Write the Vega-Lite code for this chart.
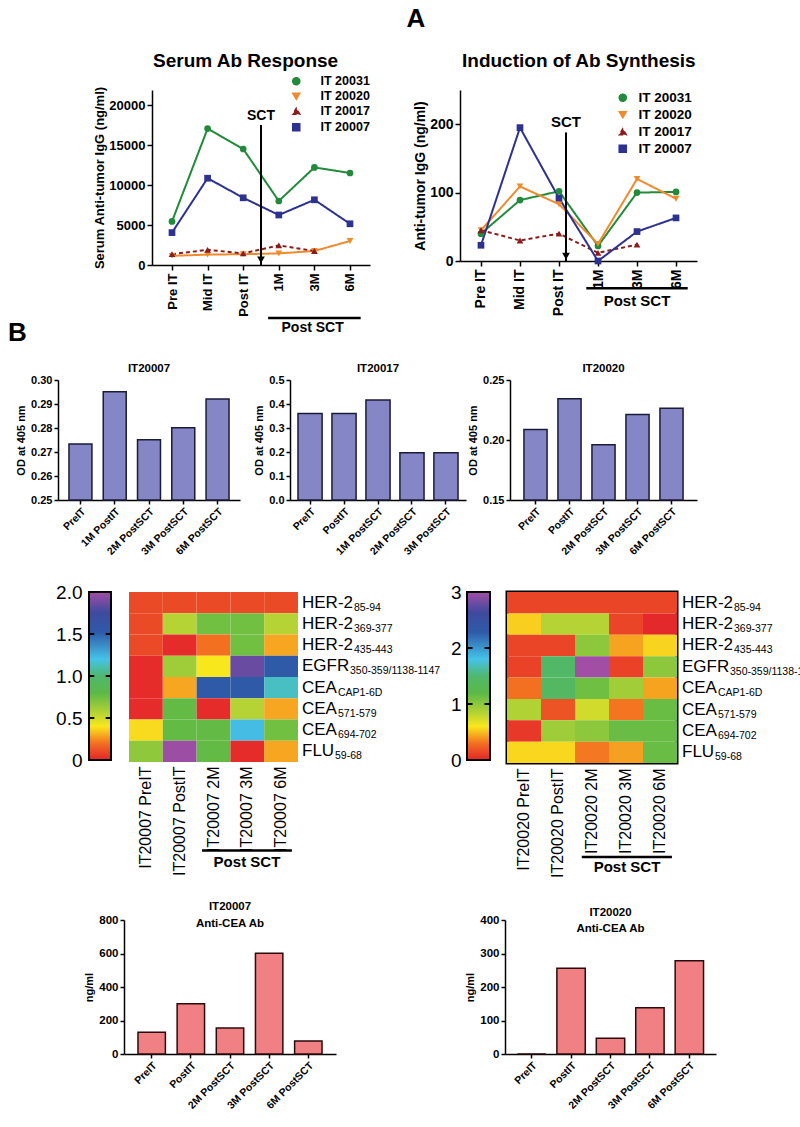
{
"$schema": "https://vega.github.io/schema/vega-lite/v6.json",
"padding": 0,
"background": "white",
"bounds": "flush",
"spacing": 0,
"resolve": {"scale": {"color": "independent", "shape": "independent", "strokeDash": "independent"}},
"config": {
  "view": {"stroke": null},
  "font": "Liberation Sans",
  "title": {"color": "black", "font": "Liberation Sans"},
  "text": {"font": "Liberation Sans", "color": "black"},
  "axis": {"domainColor": "black", "domainWidth": 1.5, "tickColor": "black", "tickWidth": 1.5, "tickSize": 5, "labelColor": "black", "labelFont": "Liberation Sans", "labelFontWeight": "bold", "titleColor": "black", "titleFont": "Liberation Sans", "titleFontWeight": "bold", "grid": false, "labelFlush": false, "labelOverlap": false},
  "legend": {"labelFont": "Liberation Sans", "labelColor": "black"}
},
"datasets": {
  "rowlab": [
    {"r": "HER-2 85-94", "m": "HER-2", "s": "85-94"},
    {"r": "HER-2 369-377", "m": "HER-2", "s": "369-377"},
    {"r": "HER-2 435-443", "m": "HER-2", "s": "435-443"},
    {"r": "EGFR 350-359/1138-1147", "m": "EGFR", "s": "350-359/1138-1147"},
    {"r": "CEA CAP1-6D", "m": "CEA", "s": "CAP1-6D"},
    {"r": "CEA 571-579", "m": "CEA", "s": "571-579"},
    {"r": "CEA 694-702", "m": "CEA", "s": "694-702"},
    {"r": "FLU 59-68", "m": "FLU", "s": "59-68"}
  ]
},
"vconcat": [
  {"width": 800, "height": 90, "title": {"text": "A", "anchor": "middle", "frame": "group", "fontSize": 26, "fontWeight": "bold", "baseline": "alphabetic", "offset": -53, "dx": 16}, "data": {"values": []}, "mark": "point"},
  {"bounds": "flush", "spacing": 0,
   "resolve": {"scale": {"color": "independent", "shape": "independent", "strokeDash": "independent"}},
   "hconcat": [
    {"width": 152, "height": 1, "data": {"values": []}, "mark": "point"},
    {"width": 218, "height": 175,
     "title": {"text": "Serum Ab Response", "anchor": "start", "frame": "group", "dx": 1, "offset": 4, "fontSize": 19, "fontWeight": "bold"},
     "layer": [
       {"data": {"values": [
          {"s":"IT 20031","t":"Pre IT","v":5450},{"s":"IT 20031","t":"Mid IT","v":17050},{"s":"IT 20031","t":"Post IT","v":14500},{"s":"IT 20031","t":"1M","v":8000},{"s":"IT 20031","t":"3M","v":12200},{"s":"IT 20031","t":"6M","v":11500},
          {"s":"IT 20020","t":"Pre IT","v":1150},{"s":"IT 20020","t":"Mid IT","v":1300},{"s":"IT 20020","t":"Post IT","v":1350},{"s":"IT 20020","t":"1M","v":1450},{"s":"IT 20020","t":"3M","v":1750},{"s":"IT 20020","t":"6M","v":3000},
          {"s":"IT 20017","t":"Pre IT","v":1350},{"s":"IT 20017","t":"Mid IT","v":1900},{"s":"IT 20017","t":"Post IT","v":1450},{"s":"IT 20017","t":"1M","v":2450},{"s":"IT 20017","t":"3M","v":1750},
          {"s":"IT 20007","t":"Pre IT","v":4050},{"s":"IT 20007","t":"Mid IT","v":10850},{"s":"IT 20007","t":"Post IT","v":8400},{"s":"IT 20007","t":"1M","v":6250},{"s":"IT 20007","t":"3M","v":8150},{"s":"IT 20007","t":"6M","v":5150}
        ]},
        "layer": [
          {"mark": {"type": "line", "strokeWidth": 2},
           "encoding": {
             "x": {"field": "t", "type": "nominal", "sort": ["Pre IT","Mid IT","Post IT","1M","3M","6M"], "scale": {"type": "point", "padding": 0.562}, "axis": {"title": null, "labelAngle": 270, "labelFontSize": 13, "labelPadding": 3}},
             "y": {"field": "v", "type": "quantitative", "scale": {"domain": [0, 21875], "nice": false}, "axis": {"title": "Serum Anti-tumor IgG (ng/ml)", "titleFontSize": 13, "titlePadding": 2, "labelFontSize": 13, "values": [0,5000,10000,15000,20000], "format": "d"}},
             "color": {"field": "s", "type": "nominal", "scale": {"domain": ["IT 20031","IT 20020","IT 20017","IT 20007"], "range": ["#228b3b","#f08a2c","#8b1c1c","#2d3190"]}, "legend": {"title": null, "orient": "none", "legendX": 138, "legendY": -15, "labelFontSize": 12.5, "labelFontWeight": "bold", "symbolSize": 50, "rowPadding": 2, "labelOffset": 18}},
             "strokeDash": {"field": "s", "type": "nominal", "scale": {"domain": ["IT 20031","IT 20020","IT 20017","IT 20007"], "range": [[1,0],[1,0],[4,3],[1,0]]}, "legend": null}
           }},
          {"mark": {"type": "point", "filled": true, "size": 45, "opacity": 1},
           "encoding": {
             "x": {"field": "t", "type": "nominal", "sort": ["Pre IT","Mid IT","Post IT","1M","3M","6M"]},
             "y": {"field": "v", "type": "quantitative"},
             "color": {"field": "s", "type": "nominal", "legend": {"title": null, "orient": "none", "legendX": 138, "legendY": -15, "labelFontSize": 12.5, "labelFontWeight": "bold", "symbolSize": 50, "rowPadding": 2, "labelOffset": 18}},
             "shape": {"field": "s", "type": "nominal", "scale": {"domain": ["IT 20031","IT 20020","IT 20017","IT 20007"], "range": ["circle","triangle-down","triangle-up","square"]}, "legend": {"title": null, "orient": "none", "legendX": 138, "legendY": -15, "labelFontSize": 12.5, "labelFontWeight": "bold", "symbolSize": 50, "rowPadding": 2, "labelOffset": 18}}
           }}
        ]},
       {"data": {"values": [{}]},
        "layer": [
          {"mark": {"type": "rule", "strokeWidth": 2, "color": "black"},
           "encoding": {"x": {"datum": 3, "type": "quantitative", "scale": {"domain": [-0.062, 6.062], "nice": false, "zero": false}, "axis": null}, "y": {"datum": 17500, "type": "quantitative"}, "y2": {"datum": 0}}},
          {"mark": {"type": "point", "shape": "triangle-down", "filled": true, "color": "black", "size": 60, "opacity": 1},
           "encoding": {"x": {"datum": 3, "type": "quantitative"}, "y": {"datum": 650, "type": "quantitative"}}},
          {"mark": {"type": "text", "text": "SCT", "fontSize": 14, "fontWeight": "bold", "baseline": "bottom"},
           "encoding": {"x": {"datum": 3, "type": "quantitative"}, "y": {"datum": 17750, "type": "quantitative"}}},
          {"mark": {"type": "rule", "strokeWidth": 2.5, "color": "black"},
           "encoding": {"x": {"datum": 3.2, "type": "quantitative"}, "x2": {"datum": 5.8}, "y": {"datum": -6625, "type": "quantitative"}}},
          {"mark": {"type": "text", "text": "Post SCT", "fontSize": 14, "fontWeight": "bold", "baseline": "middle"},
           "encoding": {"x": {"datum": 4.45, "type": "quantitative"}, "y": {"datum": -7875, "type": "quantitative"}}}
        ]}
     ],
     "resolve": {"scale": {"x": "independent"}}
    },
    {"width": 90, "height": 1, "data": {"values": []}, "mark": "point"},
    {"width": 237, "height": 171,
     "title": {"text": "Induction of Ab Synthesis", "anchor": "start", "frame": "group", "dx": 2, "offset": 19, "fontSize": 19, "fontWeight": "bold"},
     "layer": [
       {"data": {"values": [
          {"s":"IT 20031","t":"Pre IT","v":40},{"s":"IT 20031","t":"Mid IT","v":89},{"s":"IT 20031","t":"Post IT","v":102},{"s":"IT 20031","t":"1M","v":22},{"s":"IT 20031","t":"3M","v":100},{"s":"IT 20031","t":"6M","v":101},
          {"s":"IT 20020","t":"Pre IT","v":45},{"s":"IT 20020","t":"Mid IT","v":109},{"s":"IT 20020","t":"Post IT","v":83},{"s":"IT 20020","t":"1M","v":25},{"s":"IT 20020","t":"3M","v":120},{"s":"IT 20020","t":"6M","v":91},
          {"s":"IT 20017","t":"Pre IT","v":45},{"s":"IT 20017","t":"Mid IT","v":30},{"s":"IT 20017","t":"Post IT","v":40},{"s":"IT 20017","t":"1M","v":12},{"s":"IT 20017","t":"3M","v":24},
          {"s":"IT 20007","t":"Pre IT","v":23},{"s":"IT 20007","t":"Mid IT","v":195},{"s":"IT 20007","t":"Post IT","v":92},{"s":"IT 20007","t":"1M","v":0},{"s":"IT 20007","t":"3M","v":43},{"s":"IT 20007","t":"6M","v":63}
        ]},
        "layer": [
          {"mark": {"type": "line", "strokeWidth": 2},
           "encoding": {
             "x": {"field": "t", "type": "nominal", "sort": ["Pre IT","Mid IT","Post IT","1M","3M","6M"], "scale": {"type": "point", "padding": 0.538}, "axis": {"title": null, "labelAngle": 270, "labelFontSize": 14, "labelPadding": 3}},
             "y": {"field": "v", "type": "quantitative", "scale": {"domain": [0, 250], "nice": false}, "axis": {"title": "Anti-tumor IgG (ng/ml)", "titleFontSize": 14, "titlePadding": 2, "labelFontSize": 14, "values": [0,50,100,150,200,250]}},
             "color": {"field": "s", "type": "nominal", "scale": {"domain": ["IT 20031","IT 20020","IT 20017","IT 20007"], "range": ["#228b3b","#f08a2c","#8b1c1c","#2d3190"]}, "legend": {"title": null, "orient": "none", "legendX": 156, "legendY": 1, "labelFontSize": 13.5, "labelFontWeight": "bold", "symbolSize": 50, "rowPadding": 2, "labelOffset": 9}},
             "strokeDash": {"field": "s", "type": "nominal", "scale": {"domain": ["IT 20031","IT 20020","IT 20017","IT 20007"], "range": [[1,0],[1,0],[4,3],[1,0]]}, "legend": null}
           }},
          {"mark": {"type": "point", "filled": true, "size": 45, "opacity": 1},
           "encoding": {
             "x": {"field": "t", "type": "nominal", "sort": ["Pre IT","Mid IT","Post IT","1M","3M","6M"]},
             "y": {"field": "v", "type": "quantitative"},
             "color": {"field": "s", "type": "nominal", "legend": {"title": null, "orient": "none", "legendX": 156, "legendY": 1, "labelFontSize": 13.5, "labelFontWeight": "bold", "symbolSize": 50, "rowPadding": 2, "labelOffset": 9}},
             "shape": {"field": "s", "type": "nominal", "scale": {"domain": ["IT 20031","IT 20020","IT 20017","IT 20007"], "range": ["circle","triangle-down","triangle-up","square"]}, "legend": {"title": null, "orient": "none", "legendX": 156, "legendY": 1, "labelFontSize": 13.5, "labelFontWeight": "bold", "symbolSize": 50, "rowPadding": 2, "labelOffset": 9}}
           }}
        ]},
       {"data": {"values": [{}]},
        "layer": [
          {"mark": {"type": "rule", "strokeWidth": 2, "color": "black"},
           "encoding": {"x": {"datum": 2.68, "type": "quantitative", "scale": {"domain": [-0.038, 6.038], "nice": false, "zero": false}, "axis": null}, "y": {"datum": 188, "type": "quantitative"}, "y2": {"datum": 0}}},
          {"mark": {"type": "point", "shape": "triangle-down", "filled": true, "color": "black", "size": 60, "opacity": 1},
           "encoding": {"x": {"datum": 2.68, "type": "quantitative"}, "y": {"datum": 7, "type": "quantitative"}}},
          {"mark": {"type": "text", "text": "SCT", "fontSize": 15, "fontWeight": "bold", "baseline": "bottom"},
           "encoding": {"x": {"datum": 2.68, "type": "quantitative"}, "y": {"datum": 192, "type": "quantitative"}}},
          {"mark": {"type": "rule", "strokeWidth": 2.5, "color": "black"},
           "encoding": {"x": {"datum": 3.2, "type": "quantitative"}, "x2": {"datum": 5.8}, "y": {"datum": -40, "type": "quantitative"}}},
          {"mark": {"type": "text", "text": "Post SCT", "fontSize": 15, "fontWeight": "bold", "baseline": "middle"},
           "encoding": {"x": {"datum": 4.5, "type": "quantitative"}, "y": {"datum": -58, "type": "quantitative"}}}
        ]}
     ],
     "resolve": {"scale": {"x": "independent"}}
    }
  ]},
  {"width": 800, "height": 290, "title": {"text": "B", "anchor": "start", "frame": "group", "fontSize": 26, "fontWeight": "bold", "baseline": "alphabetic", "offset": -277, "dx": 8}, "data": {"values": []}, "mark": "point"},
  {"bounds": "flush", "spacing": 0, "hconcat": [
    {"width": 58, "height": 1, "data": {"values": []}, "mark": "point"},
    {"width": 182, "height": 120,
     "title": {"text": "IT20007", "fontSize": 11.5, "fontWeight": "bold", "frame": "group", "offset": 0},
     "data": {"values": [{"c":"PreIT","v":0.2733},{"c":"1M PostIT","v":0.2951},{"c":"2M PostSCT","v":0.2751},{"c":"3M PostSCT","v":0.2801},{"c":"6M PostSCT","v":0.2921}]},
     "mark": {"type": "bar", "fill": "#8486c6", "stroke": "#1b1b3a", "strokeWidth": 1.5},
     "encoding": {
       "x": {"field": "c", "type": "nominal", "sort": null, "scale": {"paddingInner": 0.33, "paddingOuter": 0.32}, "axis": {"title": null, "labelAngle": -45, "labelFontSize": 10.5, "tickSize": 4}},
       "y": {"field": "v", "type": "quantitative", "scale": {"domain": [0.25, 0.3], "nice": false, "zero": false}, "axis": {"title": "OD at 405 nm", "titleFontSize": 11, "labelFontSize": 11, "values": [0.25,0.26,0.27,0.28,0.29,0.3], "format": ".2f", "tickSize": 4, "titlePadding": 4}},
       "y2": {"datum": 0.25}
     }},
    {"width": 50, "height": 1, "data": {"values": []}, "mark": "point"},
    {"width": 176, "height": 120,
     "title": {"text": "IT20017", "fontSize": 11.5, "fontWeight": "bold", "frame": "group", "offset": 0},
     "data": {"values": [{"c":"PreIT","v":0.36},{"c":"PostIT","v":0.36},{"c":"1M PostSCT","v":0.417},{"c":"2M PostSCT","v":0.197},{"c":"3M PostSCT","v":0.197}]},
     "mark": {"type": "bar", "fill": "#8486c6", "stroke": "#1b1b3a", "strokeWidth": 1.5},
     "encoding": {
       "x": {"field": "c", "type": "nominal", "sort": null, "scale": {"paddingInner": 0.29, "paddingOuter": 0.235}, "axis": {"title": null, "labelAngle": -45, "labelFontSize": 10.5, "tickSize": 4}},
       "y": {"field": "v", "type": "quantitative", "scale": {"domain": [0, 0.5], "nice": false}, "axis": {"title": "OD at 405 nm", "titleFontSize": 11, "labelFontSize": 11, "values": [0,0.1,0.2,0.3,0.4,0.5], "format": ".1f", "tickSize": 4, "titlePadding": 4}}
     }},
    {"width": 44, "height": 1, "data": {"values": []}, "mark": "point"},
    {"width": 187, "height": 120,
     "title": {"text": "IT20020", "fontSize": 11.5, "fontWeight": "bold", "frame": "group", "offset": 0},
     "data": {"values": [{"c":"PreIT","v":0.2088},{"c":"PostIT","v":0.2343},{"c":"2M PostSCT","v":0.196},{"c":"3M PostSCT","v":0.2212},{"c":"6M PostSCT","v":0.2265}]},
     "mark": {"type": "bar", "fill": "#8486c6", "stroke": "#1b1b3a", "strokeWidth": 1.5},
     "encoding": {
       "x": {"field": "c", "type": "nominal", "sort": null, "scale": {"paddingInner": 0.32, "paddingOuter": 0.41}, "axis": {"title": null, "labelAngle": -45, "labelFontSize": 10.5, "tickSize": 4}},
       "y": {"field": "v", "type": "quantitative", "scale": {"domain": [0.15, 0.25], "nice": false, "zero": false}, "axis": {"title": "OD at 405 nm", "titleFontSize": 11, "labelFontSize": 11, "values": [0.15,0.2,0.25], "format": ".2f", "tickSize": 4, "titlePadding": 4}},
       "y2": {"datum": 0.15}
     }}
  ]},
  {"width": 800, "height": 212, "data": {"values": []}, "mark": "point"},
  {"bounds": "flush", "spacing": 0,
   "resolve": {"scale": {"color": "independent"}},
   "hconcat": [
    {"width": 89, "height": 1, "data": {"values": []}, "mark": "point"},
    {"width": 22, "height": 168,
     "layer": [
       {"data": {"values": [{"lo": 0, "hi": 2}]},
        "mark": {"type": "rect", "stroke": "black", "strokeWidth": 2, "fill": {"gradient": "linear", "x1": 0, "y1": 1, "x2": 0, "y2": 0, "stops": [{"offset": 0, "color": "#e3242b"}, {"offset": 0.1, "color": "#f37021"}, {"offset": 0.2, "color": "#f9e71e"}, {"offset": 0.28, "color": "#b5d334"}, {"offset": 0.4, "color": "#5bb947"}, {"offset": 0.5, "color": "#4fb86e"}, {"offset": 0.6, "color": "#45c3e8"}, {"offset": 0.76, "color": "#2e5aa8"}, {"offset": 0.88, "color": "#3f4a9e"}, {"offset": 1, "color": "#a34ea5"}]}},
        "encoding": {
          "x": {"datum": 0, "type": "quantitative", "scale": {"domain": [0, 1], "nice": false}, "axis": null},
          "x2": {"datum": 1},
          "y": {"field": "lo", "type": "quantitative", "scale": {"domain": [0, 2], "nice": false}, "axis": {"title": null, "values": [0, 0.5, 1, 1.5, 2], "labelExpr": "datum.value == 0 ? '0' : format(datum.value, '.1f')", "labelFontSize": 19, "labelFontWeight": "normal", "ticks": false, "domain": false, "labelPadding": 7}},
          "y2": {"field": "hi"}
        }},
       {"data": {"values": [{"t": 0.5}, {"t": 1}, {"t": 1.5}]},
        "mark": {"type": "rule", "color": "black", "strokeWidth": 2},
        "encoding": {"x": {"datum": 0, "type": "quantitative"}, "x2": {"datum": 0.24}, "y": {"field": "t", "type": "quantitative"}}},
       {"data": {"values": [{"t": 0.5}, {"t": 1}, {"t": 1.5}]},
        "mark": {"type": "rule", "color": "black", "strokeWidth": 2},
        "encoding": {"x": {"datum": 0.76, "type": "quantitative"}, "x2": {"datum": 1}, "y": {"field": "t", "type": "quantitative"}}}
     ]},
    {"width": 18, "height": 1, "data": {"values": []}, "mark": "point"},
    {"width": 169, "height": 170,
     "layer": [
       {"layer": [
         {"data": {"values": [
            {"r":"HER-2 85-94","c":"IT20007 PreIT","v":0.1},{"r":"HER-2 85-94","c":"IT20007 PostIT","v":0.1},{"r":"HER-2 85-94","c":"IT20007 2M","v":0.1},{"r":"HER-2 85-94","c":"IT20007 3M","v":0.1},{"r":"HER-2 85-94","c":"IT20007 6M","v":0.1},
            {"r":"HER-2 369-377","c":"IT20007 PreIT","v":0.1},{"r":"HER-2 369-377","c":"IT20007 PostIT","v":0.56},{"r":"HER-2 369-377","c":"IT20007 2M","v":0.74},{"r":"HER-2 369-377","c":"IT20007 3M","v":0.74},{"r":"HER-2 369-377","c":"IT20007 6M","v":0.56},
            {"r":"HER-2 435-443","c":"IT20007 PreIT","v":0.1},{"r":"HER-2 435-443","c":"IT20007 PostIT","v":0.02},{"r":"HER-2 435-443","c":"IT20007 2M","v":0.2},{"r":"HER-2 435-443","c":"IT20007 3M","v":0.74},{"r":"HER-2 435-443","c":"IT20007 6M","v":0.29},
            {"r":"EGFR 350-359/1138-1147","c":"IT20007 PreIT","v":0.02},{"r":"EGFR 350-359/1138-1147","c":"IT20007 PostIT","v":0.62},{"r":"EGFR 350-359/1138-1147","c":"IT20007 2M","v":0.4},{"r":"EGFR 350-359/1138-1147","c":"IT20007 3M","v":1.86},{"r":"EGFR 350-359/1138-1147","c":"IT20007 6M","v":1.52},
            {"r":"CEA CAP1-6D","c":"IT20007 PreIT","v":0.02},{"r":"CEA CAP1-6D","c":"IT20007 PostIT","v":0.29},{"r":"CEA CAP1-6D","c":"IT20007 2M","v":1.52},{"r":"CEA CAP1-6D","c":"IT20007 3M","v":1.52},{"r":"CEA CAP1-6D","c":"IT20007 6M","v":1.14},
            {"r":"CEA 571-579","c":"IT20007 PreIT","v":0.02},{"r":"CEA 571-579","c":"IT20007 PostIT","v":0.78},{"r":"CEA 571-579","c":"IT20007 2M","v":0.02},{"r":"CEA 571-579","c":"IT20007 3M","v":0.56},{"r":"CEA 571-579","c":"IT20007 6M","v":0.29},
            {"r":"CEA 694-702","c":"IT20007 PreIT","v":0.38},{"r":"CEA 694-702","c":"IT20007 PostIT","v":0.78},{"r":"CEA 694-702","c":"IT20007 2M","v":0.78},{"r":"CEA 694-702","c":"IT20007 3M","v":1.22},{"r":"CEA 694-702","c":"IT20007 6M","v":0.74},
            {"r":"FLU 59-68","c":"IT20007 PreIT","v":0.66},{"r":"FLU 59-68","c":"IT20007 PostIT","v":1.98},{"r":"FLU 59-68","c":"IT20007 2M","v":0.78},{"r":"FLU 59-68","c":"IT20007 3M","v":0.02},{"r":"FLU 59-68","c":"IT20007 6M","v":0.29}
          ]},
          "mark": {"type": "rect"},
          "encoding": {
            "x": {"field": "c", "type": "nominal", "scale": {"domain": ["IT20007 PreIT","IT20007 PostIT","IT20007 2M","IT20007 3M","IT20007 6M"], "paddingInner": 0, "paddingOuter": 0}, "axis": {"title": null, "labelAngle": 270, "labelFontSize": 16, "labelFontWeight": "normal", "ticks": false, "domain": false, "labelPadding": 4}},
            "y": {"field": "r", "type": "nominal", "scale": {"domain": ["HER-2 85-94","HER-2 369-377","HER-2 435-443","EGFR 350-359/1138-1147","CEA CAP1-6D","CEA 571-579","CEA 694-702","FLU 59-68"], "paddingInner": 0, "paddingOuter": 0}, "axis": null},
            "color": {"field": "v", "type": "quantitative", "scale": {"domain": [0, 0.2, 0.4, 0.56, 0.8, 1.0, 1.2, 1.52, 1.76, 2], "range": ["#e3242b","#f37021","#f9e71e","#b5d334","#5bb947","#4fb86e","#45c3e8","#2e5aa8","#3f4a9e","#a34ea5"], "interpolate": "rgb"}, "legend": null}
          }},
         {"data": {"name": "rowlab"}, "mark": {"type": "text", "align": "left", "baseline": "middle", "fontSize": 17, "dx": 4},
          "encoding": {"x": {"value": "width"}, "y": {"field": "r", "type": "nominal"}, "text": {"field": "m"}}},
         {"data": {"name": "rowlab"}, "transform": [{"filter": "datum.m == 'HER-2'"}], "mark": {"type": "text", "align": "left", "baseline": "middle", "fontSize": 10.5, "dx": 56, "dy": 5},
          "encoding": {"x": {"value": "width"}, "y": {"field": "r", "type": "nominal"}, "text": {"field": "s"}}},
         {"data": {"name": "rowlab"}, "transform": [{"filter": "datum.m == 'EGFR'"}], "mark": {"type": "text", "align": "left", "baseline": "middle", "fontSize": 10.5, "dx": 52, "dy": 5},
          "encoding": {"x": {"value": "width"}, "y": {"field": "r", "type": "nominal"}, "text": {"field": "s"}}},
         {"data": {"name": "rowlab"}, "transform": [{"filter": "datum.m == 'CEA'"}], "mark": {"type": "text", "align": "left", "baseline": "middle", "fontSize": 10.5, "dx": 40, "dy": 5},
          "encoding": {"x": {"value": "width"}, "y": {"field": "r", "type": "nominal"}, "text": {"field": "s"}}},
         {"data": {"name": "rowlab"}, "transform": [{"filter": "datum.m == 'FLU'"}], "mark": {"type": "text", "align": "left", "baseline": "middle", "fontSize": 10.5, "dx": 37, "dy": 5},
          "encoding": {"x": {"value": "width"}, "y": {"field": "r", "type": "nominal"}, "text": {"field": "s"}}}
       ]},
       {"data": {"values": [{}]},
        "layer": [
          {"mark": {"type": "rule", "color": "black", "strokeWidth": 2.5},
           "encoding": {"x": {"datum": 2.16, "type": "quantitative", "scale": {"domain": [0, 5], "nice": false}, "axis": null}, "x2": {"datum": 4.82}, "y": {"datum": -0.52, "type": "quantitative", "scale": {"domain": [0, 1], "nice": false}, "axis": null}}},
          {"mark": {"type": "text", "text": "Post SCT", "fontSize": 15, "fontWeight": "bold", "baseline": "middle"},
           "encoding": {"x": {"datum": 3.49, "type": "quantitative"}, "y": {"datum": -0.59, "type": "quantitative"}}}
        ]}
     ],
     "resolve": {"scale": {"x": "independent", "y": "independent"}}
    },
    {"width": 169, "height": 1, "data": {"values": []}, "mark": "point"},
    {"width": 23, "height": 168,
     "layer": [
       {"data": {"values": [{"lo": 0, "hi": 3}]},
        "mark": {"type": "rect", "stroke": "black", "strokeWidth": 2, "fill": {"gradient": "linear", "x1": 0, "y1": 1, "x2": 0, "y2": 0, "stops": [{"offset": 0, "color": "#e3242b"}, {"offset": 0.1, "color": "#f37021"}, {"offset": 0.2, "color": "#f9e71e"}, {"offset": 0.28, "color": "#b5d334"}, {"offset": 0.4, "color": "#5bb947"}, {"offset": 0.5, "color": "#4fb86e"}, {"offset": 0.6, "color": "#45c3e8"}, {"offset": 0.76, "color": "#2e5aa8"}, {"offset": 0.88, "color": "#3f4a9e"}, {"offset": 1, "color": "#a34ea5"}]}},
        "encoding": {
          "x": {"datum": 0, "type": "quantitative", "scale": {"domain": [0, 1], "nice": false}, "axis": null},
          "x2": {"datum": 1},
          "y": {"field": "lo", "type": "quantitative", "scale": {"domain": [0, 3], "nice": false}, "axis": {"title": null, "values": [0, 1, 2, 3], "format": "d", "labelFontSize": 19, "labelFontWeight": "normal", "ticks": false, "domain": false, "labelPadding": 6}},
          "y2": {"field": "hi"}
        }},
       {"data": {"values": [{"t": 1}, {"t": 2}]},
        "mark": {"type": "rule", "color": "black", "strokeWidth": 2},
        "encoding": {"x": {"datum": 0, "type": "quantitative"}, "x2": {"datum": 0.24}, "y": {"field": "t", "type": "quantitative"}}},
       {"data": {"values": [{"t": 1}, {"t": 2}]},
        "mark": {"type": "rule", "color": "black", "strokeWidth": 2},
        "encoding": {"x": {"datum": 0.76, "type": "quantitative"}, "x2": {"datum": 1}, "y": {"field": "t", "type": "quantitative"}}}
     ]},
    {"width": 17, "height": 1, "data": {"values": []}, "mark": "point"},
    {"width": 170, "height": 171,
     "view": {"stroke": "black", "strokeWidth": 3},
     "layer": [
       {"layer": [
         {"data": {"values": [
            {"r":"HER-2 85-94","c":"IT20020 PreIT","v":0.13},{"r":"HER-2 85-94","c":"IT20020 PostIT","v":0.13},{"r":"HER-2 85-94","c":"IT20020 2M","v":0.13},{"r":"HER-2 85-94","c":"IT20020 3M","v":0.13},{"r":"HER-2 85-94","c":"IT20020 6M","v":0.13},
            {"r":"HER-2 369-377","c":"IT20020 PreIT","v":0.54},{"r":"HER-2 369-377","c":"IT20020 PostIT","v":0.84},{"r":"HER-2 369-377","c":"IT20020 2M","v":0.84},{"r":"HER-2 369-377","c":"IT20020 3M","v":0.13},{"r":"HER-2 369-377","c":"IT20020 6M","v":0.02},
            {"r":"HER-2 435-443","c":"IT20020 PreIT","v":0.13},{"r":"HER-2 435-443","c":"IT20020 PostIT","v":0.13},{"r":"HER-2 435-443","c":"IT20020 2M","v":1.0},{"r":"HER-2 435-443","c":"IT20020 3M","v":0.43},{"r":"HER-2 435-443","c":"IT20020 6M","v":0.55},
            {"r":"EGFR 350-359/1138-1147","c":"IT20020 PreIT","v":0.12},{"r":"EGFR 350-359/1138-1147","c":"IT20020 PostIT","v":1.45},{"r":"EGFR 350-359/1138-1147","c":"IT20020 2M","v":3.0},{"r":"EGFR 350-359/1138-1147","c":"IT20020 3M","v":0.12},{"r":"EGFR 350-359/1138-1147","c":"IT20020 6M","v":1.0},
            {"r":"CEA CAP1-6D","c":"IT20020 PreIT","v":0.3},{"r":"CEA CAP1-6D","c":"IT20020 PostIT","v":1.4},{"r":"CEA CAP1-6D","c":"IT20020 2M","v":1.12},{"r":"CEA CAP1-6D","c":"IT20020 3M","v":0.92},{"r":"CEA CAP1-6D","c":"IT20020 6M","v":0.43},
            {"r":"CEA 571-579","c":"IT20020 PreIT","v":0.86},{"r":"CEA 571-579","c":"IT20020 PostIT","v":0.19},{"r":"CEA 571-579","c":"IT20020 2M","v":0.74},{"r":"CEA 571-579","c":"IT20020 3M","v":0.31},{"r":"CEA 571-579","c":"IT20020 6M","v":1.14},
            {"r":"CEA 694-702","c":"IT20020 PreIT","v":0.08},{"r":"CEA 694-702","c":"IT20020 PostIT","v":0.93},{"r":"CEA 694-702","c":"IT20020 2M","v":1.0},{"r":"CEA 694-702","c":"IT20020 3M","v":1.14},{"r":"CEA 694-702","c":"IT20020 6M","v":1.14},
            {"r":"FLU 59-68","c":"IT20020 PreIT","v":0.56},{"r":"FLU 59-68","c":"IT20020 PostIT","v":0.56},{"r":"FLU 59-68","c":"IT20020 2M","v":0.32},{"r":"FLU 59-68","c":"IT20020 3M","v":0.42},{"r":"FLU 59-68","c":"IT20020 6M","v":1.14}
          ]},
          "mark": {"type": "rect"},
          "encoding": {
            "x": {"field": "c", "type": "nominal", "scale": {"domain": ["IT20020 PreIT","IT20020 PostIT","IT20020 2M","IT20020 3M","IT20020 6M"], "paddingInner": 0, "paddingOuter": 0}, "axis": {"title": null, "labelAngle": 270, "labelFontSize": 16, "labelFontWeight": "normal", "ticks": false, "domain": false, "labelPadding": 5}},
            "y": {"field": "r", "type": "nominal", "scale": {"domain": ["HER-2 85-94","HER-2 369-377","HER-2 435-443","EGFR 350-359/1138-1147","CEA CAP1-6D","CEA 571-579","CEA 694-702","FLU 59-68"], "paddingInner": 0, "paddingOuter": 0}, "axis": null},
            "color": {"field": "v", "type": "quantitative", "scale": {"domain": [0, 0.3, 0.6, 0.84, 1.2, 1.5, 1.8, 2.28, 2.64, 3], "range": ["#e3242b","#f37021","#f9e71e","#b5d334","#5bb947","#4fb86e","#45c3e8","#2e5aa8","#3f4a9e","#a34ea5"], "interpolate": "rgb"}, "legend": null}
          }},
         {"data": {"name": "rowlab"}, "mark": {"type": "text", "align": "left", "baseline": "middle", "fontSize": 17, "dx": 5},
          "encoding": {"x": {"value": "width"}, "y": {"field": "r", "type": "nominal"}, "text": {"field": "m"}}},
         {"data": {"name": "rowlab"}, "transform": [{"filter": "datum.m == 'HER-2'"}], "mark": {"type": "text", "align": "left", "baseline": "middle", "fontSize": 10.5, "dx": 57, "dy": 5},
          "encoding": {"x": {"value": "width"}, "y": {"field": "r", "type": "nominal"}, "text": {"field": "s"}}},
         {"data": {"name": "rowlab"}, "transform": [{"filter": "datum.m == 'EGFR'"}], "mark": {"type": "text", "align": "left", "baseline": "middle", "fontSize": 10.5, "dx": 53, "dy": 5},
          "encoding": {"x": {"value": "width"}, "y": {"field": "r", "type": "nominal"}, "text": {"field": "s"}}},
         {"data": {"name": "rowlab"}, "transform": [{"filter": "datum.m == 'CEA'"}], "mark": {"type": "text", "align": "left", "baseline": "middle", "fontSize": 10.5, "dx": 41, "dy": 5},
          "encoding": {"x": {"value": "width"}, "y": {"field": "r", "type": "nominal"}, "text": {"field": "s"}}},
         {"data": {"name": "rowlab"}, "transform": [{"filter": "datum.m == 'FLU'"}], "mark": {"type": "text", "align": "left", "baseline": "middle", "fontSize": 10.5, "dx": 38, "dy": 5},
          "encoding": {"x": {"value": "width"}, "y": {"field": "r", "type": "nominal"}, "text": {"field": "s"}}}
       ]},
       {"data": {"values": [{}]},
        "layer": [
          {"mark": {"type": "rule", "color": "black", "strokeWidth": 2.5},
           "encoding": {"x": {"datum": 2.2, "type": "quantitative", "scale": {"domain": [0, 5], "nice": false}, "axis": null}, "x2": {"datum": 4.85}, "y": {"datum": -0.55, "type": "quantitative", "scale": {"domain": [0, 1], "nice": false}, "axis": null}}},
          {"mark": {"type": "text", "text": "Post SCT", "fontSize": 15, "fontWeight": "bold", "baseline": "middle"},
           "encoding": {"x": {"datum": 3.53, "type": "quantitative"}, "y": {"datum": -0.61, "type": "quantitative"}}}
        ]}
     ],
     "resolve": {"scale": {"x": "independent", "y": "independent"}}
    }
  ]},
  {"width": 800, "height": 328, "data": {"values": []}, "mark": "point"},
  {"bounds": "flush", "spacing": 0, "hconcat": [
    {"width": 124, "height": 1, "data": {"values": []}, "mark": "point"},
    {"width": 212, "height": 134,
     "title": {"text": ["IT20007", "Anti-CEA Ab"], "fontSize": 11.5, "fontWeight": "bold", "frame": "group", "offset": -15, "lineHeight": 17},
     "data": {"values": [{"c":"PreIT","v":130},{"c":"PostIT","v":300},{"c":"2M PostSCT","v":155},{"c":"3M PostSCT","v":602},{"c":"6M PostSCT","v":78}]},
     "mark": {"type": "bar", "fill": "#f08083", "stroke": "#2b0b0b", "strokeWidth": 1.5},
     "encoding": {
       "x": {"field": "c", "type": "nominal", "sort": null, "scale": {"paddingInner": 0.3, "paddingOuter": 0.357}, "axis": {"title": null, "labelAngle": -45, "labelFontSize": 10.5, "tickSize": 4}},
       "y": {"field": "v", "type": "quantitative", "scale": {"domain": [0, 800], "nice": false}, "axis": {"title": "ng/ml", "titleFontSize": 11, "labelFontSize": 11.5, "values": [0,200,400,600,800], "tickSize": 4, "titlePadding": 4}}
     }},
    {"width": 169, "height": 1, "data": {"values": []}, "mark": "point"},
    {"width": 211, "height": 134,
     "title": {"text": ["IT20020", "Anti-CEA Ab"], "fontSize": 11.5, "fontWeight": "bold", "frame": "group", "offset": -20, "lineHeight": 16},
     "data": {"values": [{"c":"PreIT","v":0},{"c":"PostIT","v":256},{"c":"2M PostSCT","v":47},{"c":"3M PostSCT","v":138},{"c":"6M PostSCT","v":278}]},
     "mark": {"type": "bar", "fill": "#f08083", "stroke": "#2b0b0b", "strokeWidth": 1.5},
     "encoding": {
       "x": {"field": "c", "type": "nominal", "sort": null, "scale": {"paddingInner": 0.28, "paddingOuter": 0.316}, "axis": {"title": null, "labelAngle": -45, "labelFontSize": 10.5, "tickSize": 4}},
       "y": {"field": "v", "type": "quantitative", "scale": {"domain": [0, 400], "nice": false}, "axis": {"title": "ng/ml", "titleFontSize": 11, "labelFontSize": 11.5, "values": [0,100,200,300,400], "tickSize": 4, "titlePadding": 4}}
     }}
  ]}
]
}
